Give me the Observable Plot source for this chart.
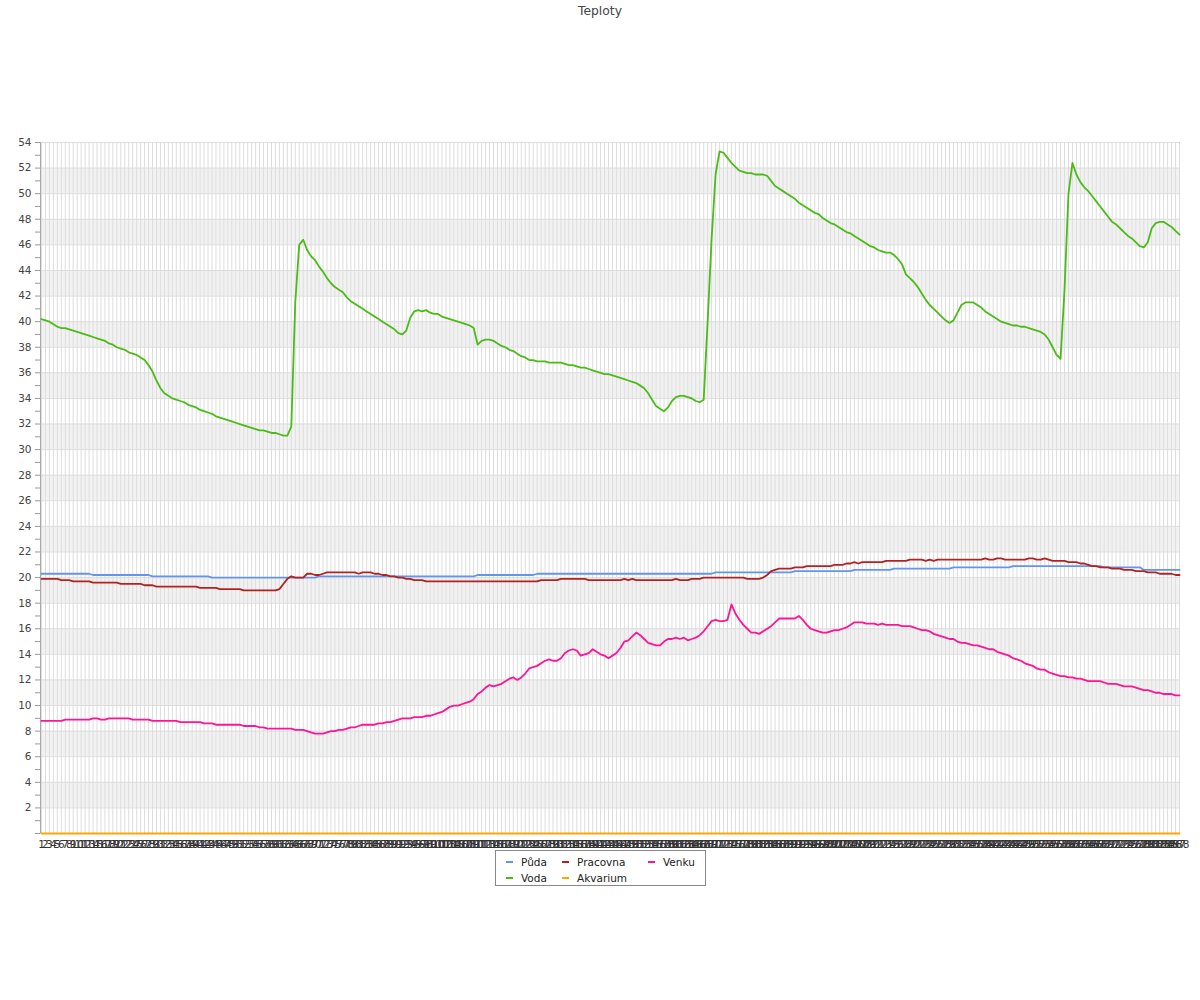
<!DOCTYPE html>
<html><head><meta charset="utf-8">
<script src="https://cdn.jsdelivr.net/npm/d3@7"></script>
<script src="https://cdn.jsdelivr.net/npm/@observablehq/plot@0.6"></script>
<style>
html,body{margin:0;padding:0;background:#fff;font-family:"DejaVu Sans",sans-serif;}
#title{position:absolute;left:0;top:0;width:1200px;height:22px;line-height:22px;text-align:center;font-size:12.3px;color:#444;}
#chart{position:absolute;left:0;top:20px;}
#chart svg{display:block;overflow:visible;}
#legend{position:absolute;left:495px;top:850px;width:209px;height:34px;border:1px solid #888;background:#fff;font-size:10.5px;color:#222;}
.item{position:absolute;white-space:nowrap;}
.sw{position:absolute;width:7px;height:2px;}
</style></head><body>
<div id="title">Teploty</div>
<div id="chart"></div>
<div id="legend"></div>
<script>
const seriesNames = ["Půda", "Pracovna", "Venku", "Voda", "Akvarium"];
const seriesColors = ["#6495ED", "#B22222", "#FF1493", "#4CBB17", "#FFA500"];
const slotLabels = d3.range(1, 289);

const puda = [
20.3,20.3,20.3,20.3,20.3,20.3,20.3,20.3,20.3,20.3,20.3,20.3,20.3,
20.2,20.2,20.2,20.2,20.2,20.2,20.2,20.2,20.2,20.2,20.2,20.2,20.2,20.2,20.2,
20.1,20.1,20.1,20.1,20.1,20.1,20.1,20.1,20.1,20.1,20.1,20.1,20.1,20.1,20.1,
20.0,20.0,20.0,20.0,20.0,20.0,20.0,20.0,20.0,20.0,20.0,20.0,20.0,20.0,20.0,20.0,20.0,20.0,20.0,20.0,20.0,20.0,20.0,20.0,20.0,20.0,20.0,
20.1,20.1,20.1,20.1,20.1,20.1,20.1,20.1,20.1,20.1,20.1,20.1,20.1,20.1,20.1,20.1,20.1,20.1,20.1,20.1,
20.1,20.1,20.1,20.1,20.1,20.1,20.1,20.1,20.1,20.1,20.1,20.1,20.1,20.1,20.1,20.1,20.1,20.1,20.1,20.1,
20.2,20.2,20.2,20.2,20.2,20.2,20.2,20.2,20.2,20.2,20.2,20.2,20.2,20.2,20.2,
20.3,20.3,20.3,20.3,20.3,20.3,20.3,20.3,20.3,20.3,20.3,20.3,20.3,20.3,20.3,
20.3,20.3,20.3,20.3,20.3,20.3,20.3,20.3,20.3,20.3,20.3,20.3,20.3,20.3,20.3,
20.3,20.3,20.3,20.3,20.3,20.3,20.3,20.3,20.3,20.3,20.3,20.3,20.3,20.3,20.3,
20.4,20.4,20.4,20.4,20.4,20.4,20.4,20.4,20.4,20.4,20.4,20.4,20.4,20.4,20.4,20.4,20.4,20.4,20.4,20.4,
20.5,20.5,20.5,20.5,20.5,20.5,20.5,20.5,20.5,20.5,20.5,20.5,20.5,20.5,20.5,
20.6,20.6,20.6,20.6,20.6,20.6,20.6,20.6,20.6,20.6,
20.7,20.7,20.7,20.7,20.7,20.7,20.7,20.7,20.7,20.7,20.7,20.7,20.7,20.7,20.7,
20.8,20.8,20.8,20.8,20.8,20.8,20.8,20.8,20.8,20.8,20.8,20.8,20.8,20.8,20.8,
20.9,20.9,20.9,20.9,20.9,20.9,20.9,20.9,20.9,20.9,20.9,20.9,20.9,20.9,20.9,20.9,20.9,20.9,20.9,20.9,20.9,20.9,20.9,
20.8,20.8,20.8,20.8,20.8,20.8,20.8,20.8,20.8,20.8,
20.6,20.6,20.6,20.6,20.6,20.6,20.6,20.6,20.6,20.6
];

const pracovna = [
19.9,19.9,19.9,19.9,19.9,19.8,19.8,19.8,19.7,19.7,
19.7,19.7,19.7,19.6,19.6,19.6,19.6,19.6,19.6,19.6,
19.5,19.5,19.5,19.5,19.5,19.5,19.4,19.4,19.4,19.3,
19.3,19.3,19.3,19.3,19.3,19.3,19.3,19.3,19.3,19.3,
19.2,19.2,19.2,19.2,19.2,19.1,19.1,19.1,19.1,19.1,
19.1,19.0,19.0,19.0,19.0,19.0,19.0,19.0,19.0,19.0,
19.1,19.5,19.9,20.1,20.0,20.0,20.0,20.3,20.3,20.2,
20.2,20.3,20.4,20.4,20.4,20.4,20.4,20.4,20.4,20.4,
20.3,20.4,20.4,20.4,20.3,20.3,20.2,20.2,20.1,20.1,
20.0,20.0,19.9,19.9,19.8,19.8,19.8,19.7,19.7,19.7,
19.7,19.7,19.7,19.7,19.7,19.7,19.7,19.7,19.7,19.7,
19.7,19.7,19.7,19.7,19.7,19.7,19.7,19.7,19.7,19.7,
19.7,19.7,19.7,19.7,19.7,19.7,19.8,19.8,19.8,19.8,
19.8,19.9,19.9,19.9,19.9,19.9,19.9,19.9,19.8,19.8,
19.8,19.8,19.8,19.8,19.8,19.8,19.8,19.9,19.8,19.9,
19.8,19.8,19.8,19.8,19.8,19.8,19.8,19.8,19.8,19.8,
19.9,19.8,19.8,19.8,19.9,19.9,19.9,20.0,20.0,20.0,
20.0,20.0,20.0,20.0,20.0,20.0,20.0,20.0,19.9,19.9,
19.9,19.9,20.0,20.2,20.5,20.6,20.7,20.7,20.7,20.7,
20.8,20.8,20.8,20.9,20.9,20.9,20.9,20.9,20.9,20.9,
21.0,21.0,21.0,21.1,21.1,21.2,21.1,21.2,21.2,21.2,
21.2,21.2,21.2,21.3,21.3,21.3,21.3,21.3,21.3,21.4,
21.4,21.4,21.4,21.3,21.4,21.3,21.4,21.4,21.4,21.4,
21.4,21.4,21.4,21.4,21.4,21.4,21.4,21.4,21.5,21.4,
21.4,21.5,21.5,21.4,21.4,21.4,21.4,21.4,21.4,21.5,
21.5,21.4,21.4,21.5,21.4,21.3,21.3,21.3,21.3,21.2,
21.2,21.2,21.1,21.1,21.0,20.9,20.9,20.8,20.8,20.8,
20.7,20.7,20.7,20.6,20.6,20.6,20.5,20.5,20.5,20.4,
20.4,20.4,20.3,20.3,20.3,20.3,20.2,20.2
];

const venku = [
8.8,8.8,8.8,8.8,8.8,8.8,8.9,8.9,8.9,8.9,
8.9,8.9,8.9,9.0,9.0,8.9,8.9,9.0,9.0,9.0,
9.0,9.0,9.0,8.9,8.9,8.9,8.9,8.9,8.8,8.8,
8.8,8.8,8.8,8.8,8.8,8.7,8.7,8.7,8.7,8.7,
8.7,8.6,8.6,8.6,8.5,8.5,8.5,8.5,8.5,8.5,
8.5,8.4,8.4,8.4,8.4,8.3,8.3,8.2,8.2,8.2,
8.2,8.2,8.2,8.2,8.1,8.1,8.1,8.0,7.9,7.8,
7.8,7.8,7.9,8.0,8.0,8.1,8.1,8.2,8.3,8.3,
8.4,8.5,8.5,8.5,8.5,8.6,8.6,8.7,8.7,8.8,
8.9,9.0,9.0,9.0,9.1,9.1,9.1,9.2,9.2,9.3,
9.4,9.5,9.7,9.9,10.0,10.0,10.1,10.2,10.3,10.5,
10.9,11.1,11.4,11.6,11.5,11.6,11.7,11.9,12.1,12.2,
12.0,12.2,12.5,12.9,13.0,13.1,13.3,13.5,13.6,13.5,
13.5,13.7,14.1,14.3,14.4,14.3,13.9,14.0,14.1,14.4,
14.2,14.0,13.9,13.7,13.9,14.1,14.5,15.0,15.1,15.4,
15.7,15.5,15.2,14.9,14.8,14.7,14.7,15.0,15.2,15.2,
15.3,15.2,15.3,15.1,15.2,15.3,15.5,15.8,16.2,16.6,
16.7,16.6,16.6,16.7,17.9,17.2,16.7,16.3,16.0,15.7,
15.7,15.6,15.8,16.0,16.2,16.5,16.8,16.8,16.8,16.8,
16.8,17.0,16.7,16.3,16.0,15.9,15.8,15.7,15.7,15.8,
15.9,15.9,16.0,16.1,16.3,16.5,16.5,16.5,16.4,16.4,
16.4,16.3,16.4,16.3,16.3,16.3,16.3,16.2,16.2,16.2,
16.1,16.0,15.9,15.9,15.8,15.6,15.5,15.4,15.3,15.2,
15.2,15.0,14.9,14.9,14.8,14.7,14.7,14.6,14.5,14.4,
14.4,14.2,14.1,14.0,13.9,13.7,13.6,13.5,13.3,13.2,
13.1,12.9,12.8,12.8,12.6,12.5,12.4,12.3,12.3,12.2,
12.2,12.1,12.1,12.0,11.9,11.9,11.9,11.9,11.8,11.7,
11.7,11.7,11.6,11.5,11.5,11.5,11.4,11.3,11.2,11.2,
11.1,11.0,11.0,10.9,10.9,10.9,10.8,10.8
];

const voda = [
40.2,40.1,40.0,39.8,39.6,39.5,39.5,39.4,39.3,39.2,
39.1,39.0,38.9,38.8,38.7,38.6,38.5,38.3,38.2,38.0,
37.9,37.8,37.6,37.5,37.4,37.2,37.0,36.6,36.1,35.4,
34.8,34.4,34.2,34.0,33.9,33.8,33.7,33.5,33.4,33.3,
33.1,33.0,32.9,32.8,32.6,32.5,32.4,32.3,32.2,32.1,
32.0,31.9,31.8,31.7,31.6,31.5,31.5,31.4,31.3,31.3,
31.2,31.1,31.1,31.8,41.5,46.0,46.4,45.6,45.1,44.8,
44.3,43.9,43.4,43.0,42.7,42.5,42.3,41.9,41.6,41.4,
41.2,41.0,40.8,40.6,40.4,40.2,40.0,39.8,39.6,39.4,
39.1,39.0,39.3,40.3,40.8,40.9,40.8,40.9,40.7,40.6,
40.6,40.4,40.3,40.2,40.1,40.0,39.9,39.8,39.7,39.5,
38.2,38.5,38.6,38.6,38.5,38.3,38.1,38.0,37.8,37.7,
37.5,37.3,37.2,37.0,37.0,36.9,36.9,36.9,36.8,36.8,
36.8,36.8,36.7,36.6,36.6,36.5,36.4,36.4,36.3,36.2,
36.1,36.0,35.9,35.9,35.8,35.7,35.6,35.5,35.4,35.3,
35.2,35.0,34.8,34.4,33.9,33.4,33.2,33.0,33.3,33.8,
34.1,34.2,34.2,34.1,34.0,33.8,33.7,33.9,40.0,46.5,
51.5,53.3,53.2,52.8,52.4,52.1,51.8,51.7,51.6,51.6,
51.5,51.5,51.5,51.4,51.0,50.6,50.4,50.2,50.0,49.8,
49.6,49.3,49.1,48.9,48.7,48.5,48.4,48.1,47.9,47.7,
47.6,47.4,47.2,47.0,46.9,46.7,46.5,46.3,46.1,45.9,
45.8,45.6,45.5,45.4,45.4,45.2,44.9,44.5,43.7,43.4,
43.1,42.7,42.2,41.7,41.3,41.0,40.7,40.4,40.1,39.9,
40.1,40.7,41.3,41.5,41.5,41.5,41.3,41.1,40.8,40.6,
40.4,40.2,40.0,39.9,39.8,39.7,39.7,39.6,39.6,39.5,
39.4,39.3,39.2,39.0,38.6,38.0,37.4,37.1,42.5,50.0,
52.4,51.5,50.9,50.5,50.2,49.8,49.4,49.0,48.6,48.2,
47.8,47.6,47.3,47.0,46.7,46.5,46.2,45.9,45.8,46.2,
47.3,47.7,47.8,47.8,47.6,47.4,47.1,46.8
];

const akvarium = [
0,0,0,0,0,0,0,0,0,0,0,0,0,0,0,0,0,0,0,0,0,0,0,0,0,0,0,0,0,0,0,0,0,0,0,0,0,0,0,0,0,0,0,0,0,0,0,0,
0,0,0,0,0,0,0,0,0,0,0,0,0,0,0,0,0,0,0,0,0,0,0,0,0,0,0,0,0,0,0,0,0,0,0,0,0,0,0,0,0,0,0,0,0,0,0,0,
0,0,0,0,0,0,0,0,0,0,0,0,0,0,0,0,0,0,0,0,0,0,0,0,0,0,0,0,0,0,0,0,0,0,0,0,0,0,0,0,0,0,0,0,0,0,0,0,
0,0,0,0,0,0,0,0,0,0,0,0,0,0,0,0,0,0,0,0,0,0,0,0,0,0,0,0,0,0,0,0,0,0,0,0,0,0,0,0,0,0,0,0,0,0,0,0,
0,0,0,0,0,0,0,0,0,0,0,0,0,0,0,0,0,0,0,0,0,0,0,0,0,0,0,0,0,0,0,0,0,0,0,0,0,0,0,0,0,0,0,0,0,0,0,0,
0,0,0,0,0,0,0,0,0,0,0,0,0,0,0,0,0,0,0,0,0,0,0,0,0,0,0,0,0,0,0,0,0,0,0,0,0,0,0,0,0,0,0,0,0,0,0,0
];

const seriesValues = [puda, pracovna, venku, voda, akvarium];
const rows = seriesValues.flatMap((vals, s) =>
  vals.map((v, i) => ({slot: slotLabels[i], value: v, name: seriesNames[s]})));

const bandStarts = d3.range(2, 52, 4);
const gridY = d3.range(0, 55, 2);

const chart = Plot.plot({
  width: 1200,
  height: 832,
  marginTop: 122,
  marginBottom: 19,
  marginLeft: 40,
  marginRight: 20,
  style: {fontFamily: "DejaVu Sans", fontSize: "10.5px", background: "#fff", color: "#444"},
  x: {domain: [0.75, 288.25], axis: null},
  y: {domain: [0, 54], axis: null},
  color: {domain: seriesNames, range: seriesColors},
  marks: [
    Plot.rect(bandStarts, {y1: d => d, y2: d => d + 2, fill: "#f2f2f2"}),
    Plot.ruleX(slotLabels, {stroke: "#dddddd", strokeWidth: 1}),
    Plot.ruleY(gridY, {stroke: "#dddddd", strokeWidth: 1}),
    Plot.ruleX([0.75], {stroke: "#aaaaaa"}),
    Plot.axisY({ticks: d3.range(0, 55, 1), tickSize: 5, tickPadding: 4,
      tickFormat: d => (d > 0 && d % 2 === 0) ? String(d) : "",
      stroke: "#999", fill: "#444", label: null}),
    Plot.axisX({ticks: slotLabels, tickSize: 0, tickPadding: 7,
      tickFormat: d => String(d), fill: "#333", label: null}),
    Plot.line(rows, {x: "slot", y: "value", z: "name", stroke: "name", strokeWidth: 1.8})
  ]
});
document.getElementById("chart").appendChild(chart);

// legend
const legend = document.getElementById("legend");
const colLeft = [10, 66, 152];
const rowMid = [11, 27];
seriesNames.forEach((name, k) => {
  const c = k % 3, r = Math.floor(k / 3);
  const sw = document.createElement("div");
  sw.className = "sw";
  sw.style.left = colLeft[c] + "px";
  sw.style.top = (rowMid[r] - 1) + "px";
  sw.style.background = seriesColors[k];
  legend.appendChild(sw);
  const t = document.createElement("div");
  t.className = "item";
  t.textContent = name;
  t.style.left = (colLeft[c] + 15) + "px";
  t.style.top = (rowMid[r] - 7) + "px";
  t.style.lineHeight = "14px";
  legend.appendChild(t);
});
</script>
</body></html>
